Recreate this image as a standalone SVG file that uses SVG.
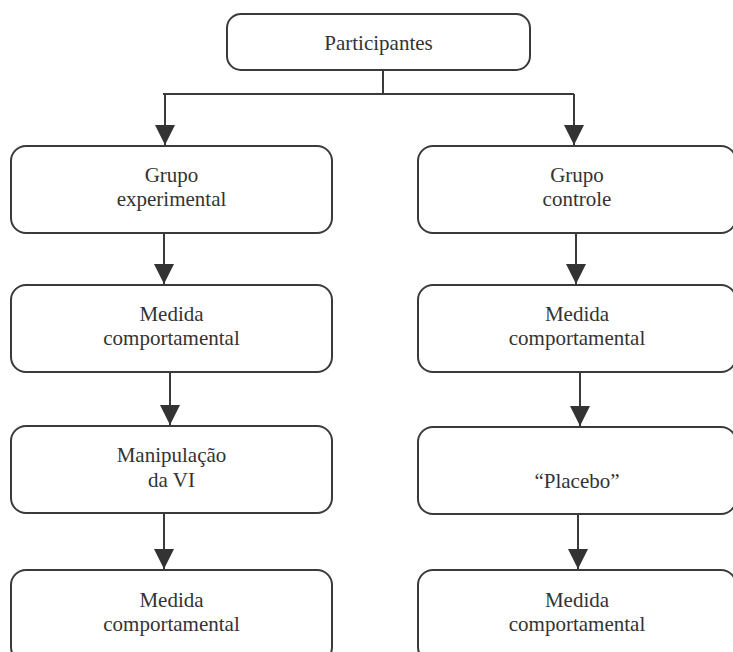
<svg xmlns="http://www.w3.org/2000/svg" width="733" height="652" viewBox="0 0 733 652">
<style>
.box{fill:#fff;stroke:#3a3a3a;stroke-width:2}
.t{font-family:'Liberation Serif','Times New Roman','DejaVu Serif',serif;font-size:21px;fill:#333;text-anchor:middle}
.c{fill:none;stroke:#3a3a3a;stroke-width:2}
</style>
<defs>
<marker id="ah" markerUnits="userSpaceOnUse" markerWidth="20" markerHeight="20" refX="20" refY="10" orient="auto" viewBox="0 0 20 20">
<path d="M0,0 L20,10 L0,20 z" fill="#333"/>
</marker>
</defs>
<rect width="733" height="652" fill="#fff"/>
<g id="connectors">
<path class="c" d="M383,70 V94 M163,94 H574"/>
<path class="c" d="M165,94 V145" marker-end="url(#ah)"/>
<path class="c" d="M574,94 V145" marker-end="url(#ah)"/>
<path class="c" d="M164,233 V284" marker-end="url(#ah)"/>
<path class="c" d="M170,372 V425" marker-end="url(#ah)"/>
<path class="c" d="M164,513 V569" marker-end="url(#ah)"/>
<path class="c" d="M576,233 V284" marker-end="url(#ah)"/>
<path class="c" d="M580,372 V426" marker-end="url(#ah)"/>
<path class="c" d="M578,514 V569" marker-end="url(#ah)"/>
</g>
<g id="participantes">
<rect class="box" x="227" y="14" width="303" height="56" rx="14"/>
<text class="t" font-family="Liberation Serif, serif" x="378.5" y="50">Participantes</text>
</g>
<g id="grupo-experimental">
<rect class="box" x="11" y="146" width="321" height="87" rx="15"/>
<text class="t" font-family="Liberation Serif, serif" x="171.5" y="182">Grupo</text>
<text class="t" font-family="Liberation Serif, serif" x="171.5" y="206">experimental</text>
</g>
<g id="medida-exp-1">
<rect class="box" x="11" y="285" width="321" height="87" rx="15"/>
<text class="t" font-family="Liberation Serif, serif" x="171.5" y="321">Medida</text>
<text class="t" font-family="Liberation Serif, serif" x="171.5" y="345">comportamental</text>
</g>
<g id="manipulacao">
<rect class="box" x="11" y="426" width="321" height="87" rx="15"/>
<text class="t" font-family="Liberation Serif, serif" x="171.5" y="462">Manipulação</text>
<text class="t" font-family="Liberation Serif, serif" x="171.5" y="487">da VI</text>
</g>
<g id="medida-exp-2">
<rect class="box" x="11" y="570" width="321" height="92" rx="15"/>
<text class="t" font-family="Liberation Serif, serif" x="171.5" y="607">Medida</text>
<text class="t" font-family="Liberation Serif, serif" x="171.5" y="631">comportamental</text>
</g>
<g id="grupo-controle">
<rect class="box" x="418" y="146" width="318" height="87" rx="15"/>
<text class="t" font-family="Liberation Serif, serif" x="577" y="182">Grupo</text>
<text class="t" font-family="Liberation Serif, serif" x="577" y="206">controle</text>
</g>
<g id="medida-ctrl-1">
<rect class="box" x="418" y="285" width="318" height="87" rx="15"/>
<text class="t" font-family="Liberation Serif, serif" x="577" y="321">Medida</text>
<text class="t" font-family="Liberation Serif, serif" x="577" y="345">comportamental</text>
</g>
<g id="placebo">
<rect class="box" x="418" y="427" width="318" height="87" rx="15"/>
<text class="t" font-family="Liberation Serif, serif" x="577" y="488">“Placebo”</text>
</g>
<g id="medida-ctrl-2">
<rect class="box" x="418" y="570" width="318" height="92" rx="15"/>
<text class="t" font-family="Liberation Serif, serif" x="577" y="607">Medida</text>
<text class="t" font-family="Liberation Serif, serif" x="577" y="631">comportamental</text>
</g>
</svg>
